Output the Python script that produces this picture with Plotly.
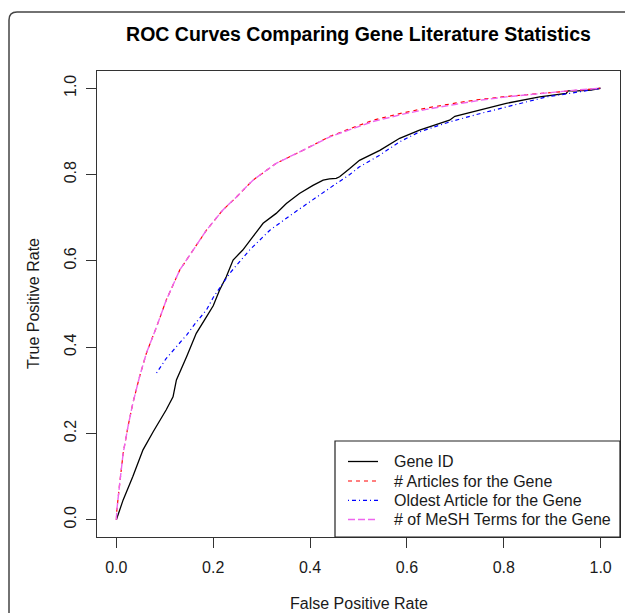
import plotly.graph_objects as go

# ---- data ----
gene_fpr = [0, 0.003, 0.014, 0.034, 0.055, 0.076, 0.103, 0.117, 0.124, 0.145, 0.165, 0.186, 0.2, 0.213,
            0.227, 0.241, 0.261, 0.282, 0.303, 0.330, 0.351, 0.378, 0.406, 0.427, 0.440, 0.454, 0.461,
            0.482, 0.502, 0.544, 0.585, 0.626, 0.688, 0.699, 0.75, 0.805, 0.874, 0.929, 0.933, 0.953,
            0.98, 1.0]
gene_tpr = [0, 0.01, 0.046, 0.10, 0.162, 0.204, 0.255, 0.285, 0.324, 0.378, 0.432, 0.47, 0.496, 0.532,
            0.563, 0.602, 0.625, 0.656, 0.687, 0.71, 0.733, 0.756, 0.775, 0.787, 0.79, 0.791, 0.795,
            0.814, 0.833, 0.856, 0.884, 0.903, 0.926, 0.935, 0.949, 0.965, 0.98, 0.988, 0.994, 0.994,
            0.996, 1.0]

art_fpr = [0, 0.001, 0.007, 0.014, 0.024, 0.034, 0.048, 0.062, 0.083, 0.103, 0.131, 0.158, 0.186, 0.22,
           0.248, 0.282, 0.33, 0.392, 0.44, 0.482, 0.53, 0.592, 0.64, 0.702, 0.75, 0.805, 0.874, 0.942, 1.0]
art_tpr = [0, 0.023, 0.085, 0.154, 0.216, 0.27, 0.332, 0.386, 0.447, 0.509, 0.579, 0.625, 0.671, 0.718,
           0.748, 0.787, 0.826, 0.86, 0.888, 0.906, 0.926, 0.943, 0.954, 0.966, 0.974, 0.981, 0.988, 0.995, 1.0]

old_fpr = [0.083, 0.103, 0.124, 0.145, 0.165, 0.186, 0.2, 0.234, 0.275, 0.317, 0.365, 0.413, 0.454, 0.482,
           0.502, 0.544, 0.585, 0.626, 0.688, 0.75, 0.819, 0.888, 0.936, 1.0]
old_tpr = [0.34, 0.374, 0.401, 0.428, 0.458, 0.486, 0.515, 0.571, 0.625, 0.671, 0.71, 0.748, 0.779, 0.80,
           0.818, 0.845, 0.876, 0.899, 0.922, 0.941, 0.961, 0.98, 0.988, 1.0]

mesh_fpr = [0, 0.001, 0.007, 0.014, 0.024, 0.034, 0.048, 0.062, 0.083, 0.103, 0.131, 0.158, 0.186, 0.22,
            0.248, 0.282, 0.33, 0.392, 0.44, 0.482, 0.53, 0.592, 0.64, 0.702, 0.75, 0.805, 0.874, 0.942, 1.0]
mesh_tpr = [0, 0.023, 0.085, 0.154, 0.216, 0.27, 0.332, 0.386, 0.447, 0.509, 0.579, 0.625, 0.671, 0.718,
            0.748, 0.787, 0.826, 0.86, 0.887, 0.904, 0.923, 0.94, 0.951, 0.963, 0.972, 0.98, 0.988, 0.995, 1.0]

series_names = ["Gene ID", "# Articles for the Gene", "Oldest Article for the Gene",
                "# of MeSH Terms for the Gene"]

tick_vals = [0.0, 0.2, 0.4, 0.6, 0.8, 1.0]
tick_text = ["0.0", "0.2", "0.4", "0.6", "0.8", "1.0"]

FONT = "Liberation Sans, Arial, sans-serif"
TXT = "#1a1a1a"

styles = [dict(color="black", width=1.3),
          dict(color="#ff0000", width=1.2, dash="4px,4px"),
          dict(color="#0000ff", width=1.2, dash="1px,3px,4px,3px"),
          dict(color="#ee66ee", width=1.4, dash="7px,3px")]

fig = go.Figure()
for xs, ys, name, st in zip([gene_fpr, art_fpr, old_fpr, mesh_fpr],
                            [gene_tpr, art_tpr, old_tpr, mesh_tpr], series_names, styles):
    fig.add_trace(go.Scatter(x=xs, y=ys, mode="lines", name=name, line=st, showlegend=False))

axis_common = dict(range=[-0.04, 1.04], showgrid=False, zeroline=False, showline=True, mirror=True,
                   linecolor="#333333", linewidth=1.2, ticks="outside", ticklen=10, tickwidth=1.2,
                   tickcolor="#333333", tickvals=tick_vals, ticktext=tick_text,
                   tickfont=dict(family=FONT, size=16, color=TXT))

fig.update_xaxes(**axis_common, ticklabelstandoff=6)
fig.update_yaxes(**axis_common, tickangle=-90, ticklabelstandoff=4)

# plot area in pixels: x 97..620, y 71..537
def px(x):
    return (x - 97) / 523.0

def py(y):
    return (537 - y) / 466.0

# outer rounded frame (paper coords)
x0, y0, x1, y1 = px(9), py(625), px(640), py(12)
rx, ry = 8 / 523.0, 8 / 466.0
frame_path = f"M {x0},{y0} L {x0},{y1 - ry} Q {x0},{y1} {x0 + rx},{y1} L {x1},{y1}"

shapes = [dict(type="path", path=frame_path, xref="paper", yref="paper",
               line=dict(color="#444444", width=1.5), layer="below")]

# custom legend box (R style)
shapes.append(dict(type="rect", xref="paper", yref="paper", x0=px(335), x1=px(620), y0=py(537),
                   y1=py(441), line=dict(color="#222222", width=1.2), fillcolor="white", layer="above"))
annotations = []
entry_y = [461.5, 481, 500.3, 519.5]
for name, st, ey in zip(series_names, styles, entry_y):
    shapes.append(dict(type="line", xref="paper", yref="paper", x0=px(348), x1=px(378),
                       y0=py(ey), y1=py(ey), line=st, layer="above"))
    annotations.append(dict(text=name, x=px(392), y=py(ey), xref="paper", yref="paper",
                            xanchor="left", yanchor="middle", showarrow=False,
                            font=dict(family=FONT, size=16, color=TXT)))

annotations += [
    dict(text="False Positive Rate", x=0.5, y=py(603), xref="paper", yref="paper",
         xanchor="center", yanchor="middle", showarrow=False,
         font=dict(family=FONT, size=16, color=TXT)),
    dict(text="True Positive Rate", x=px(33), y=0.5, xref="paper", yref="paper",
         xanchor="center", yanchor="middle", textangle=-90, showarrow=False,
         font=dict(family=FONT, size=16, color=TXT)),
]

fig.update_layout(
    width=625, height=613,
    margin=dict(l=97, r=5, t=71, b=76),
    paper_bgcolor="white", plot_bgcolor="white",
    showlegend=False,
    title=dict(text="<b>ROC Curves Comparing Gene Literature Statistics</b>",
               font=dict(family=FONT, size=19.5, color="black"),
               x=0.5, xref="paper", xanchor="center", y=1 - 34 / 613, yanchor="middle"),
    shapes=shapes,
    annotations=annotations,
)

fig.write_html("out.html")
